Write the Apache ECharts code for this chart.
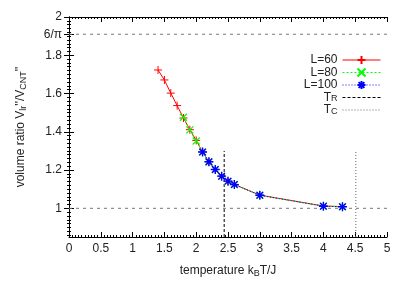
<!DOCTYPE html>
<html><head><meta charset="utf-8">
<script src="https://cdn.jsdelivr.net/npm/echarts@6/dist/echarts.min.js"></script>
<style>html,body{margin:0;padding:0;background:#fff}#c{width:407px;height:291px}</style>
</head><body><div id="c"></div>
<script>
// ---- data ----
var tempsL60  = [1.4, 1.5, 1.6, 1.7, 1.8, 1.9, 2.0, 2.1, 2.2, 2.3, 2.4, 2.5, 2.6, 3.0, 4.0, 4.3];
var valuesL60 = [1.723, 1.671, 1.602, 1.537, 1.472, 1.411, 1.355, 1.295, 1.243, 1.203, 1.168, 1.142, 1.125, 1.069, 1.012, 1.009];
var tempsL80  = [1.8, 1.9, 2.0, 2.1, 2.2, 2.3, 2.4, 2.5, 2.6, 3.0, 4.0, 4.3];
var valuesL80 = [1.476, 1.410, 1.352, 1.294, 1.242, 1.202, 1.167, 1.141, 1.124, 1.068, 1.011, 1.008];
var tempsL100  = [2.1, 2.2, 2.3, 2.4, 2.5, 2.6, 3.0, 4.0, 4.3];
var valuesL100 = [1.294, 1.243, 1.203, 1.168, 1.142, 1.124, 1.068, 1.011, 1.008];
var T_R = 2.44, T_C = 4.51, vLineTop = 1.3;
var refLevels = [1, 6 / Math.PI];
var xTicks = [0, 0.5, 1, 1.5, 2, 2.5, 3, 3.5, 4, 4.5, 5];
var yTickLabels = [1, 1.2, 1.4, 1.6, 1.8, 6 / Math.PI, 2];
var legendNames = ['L=60', 'L=80', 'L=100', 'T_R', 'T_C'];

function zip(a, b) { return a.map(function (v, i) { return [v, b[i]]; }); }
var yMin = 0.85, yMax = 2, xMin = 0, xMax = 5;
var yMinor = []; for (var k = 0; k <= 57; k++) { yMinor.push(+(0.86 + k * 0.02).toFixed(3)); }
var xMinor = []; for (var j = 0; j <= 100; j++) { xMinor.push(+(j * 0.05).toFixed(3)); }

var font = 'Liberation Sans';
var txt = '#222';
var G = {left: 69, right: 20, top: 17, bottom: 54};
function xAx(grid, pos, show, minor) {
  return {
    type: 'value', gridIndex: grid, position: pos, min: xMin, max: xMax,
    axisLine: {show: !minor, lineStyle: {color: '#000', width: 1}},
    axisTick: {show: true, inside: true, length: minor ? 2 : 5, lineStyle: {color: '#000', width: 1},
               customValues: minor ? xMinor : xTicks},
    axisLabel: {show: show, customValues: xTicks, margin: 6, fontFamily: font, fontSize: 12, color: txt},
    splitLine: {show: false}
  };
}
function yAx(grid, pos, show, minor) {
  return {
    type: 'value', gridIndex: grid, position: pos, min: yMin, max: yMax,
    axisLine: {show: !minor, lineStyle: {color: '#000', width: 1}},
    axisTick: {show: true, inside: true, length: minor ? 2 : 5, lineStyle: {color: '#000', width: 1},
               customValues: minor ? yMinor : yTickLabels},
    axisLabel: {show: show, customValues: yTickLabels, margin: 7, fontFamily: font, fontSize: 12, color: txt,
                formatter: function (v) { return Math.abs(v - 6 / Math.PI) < 1e-6 ? '6/π' : String(+v.toFixed(2)); }},
    splitLine: {show: false}
  };
}
var subStyle = {fontFamily: font, fontSize: 9, color: txt, verticalAlign: 'bottom', padding: [6, 0, 0, 0]};
var xa0 = xAx(0, 'bottom', true, false);
xa0.name = 'temperature k{s|B}T/J';
xa0.nameLocation = 'middle'; xa0.nameGap = 26;
xa0.nameTextStyle = {fontFamily: font, fontSize: 12, color: txt, rich: {s: subStyle}};
var ya0 = yAx(0, 'left', true, false);
ya0.name = "volume ratio V{s|lr}''/V{s|CNT}''";
ya0.nameLocation = 'middle'; ya0.nameGap = 41;
ya0.nameTextStyle = {fontFamily: font, fontSize: 12, color: txt, rich: {s: subStyle}};

function sym(path) { return 'path://' + path; }
var plusSym = sym('M0,-1L0,1M-1,0L1,0');
var xSym = sym('M-1,-1L1,1M-1,1L1,-1');
var starSym = sym('M0,-1L0,1M-1,0L1,0M-0.72,-0.72L0.72,0.72M-0.72,0.72L0.72,-0.72');

var series = [];
refLevels.forEach(function (lv) {
  series.push({type: 'line', xAxisIndex: 0, yAxisIndex: 0, data: [[xMin, lv], [xMax, lv]], symbol: 'none', silent: true,
    lineStyle: {color: '#777', width: 1, type: [3, 4]}, z: 1});
});
series.push({name: 'T_R', type: 'line', xAxisIndex: 0, yAxisIndex: 0, data: [[T_R, yMin], [T_R, vLineTop]], symbol: 'none',
  itemStyle: {color: '#000'}, lineStyle: {color: '#000', width: 1, type: [3, 2]}, z: 1});
series.push({name: 'T_C', type: 'line', xAxisIndex: 0, yAxisIndex: 0, data: [[T_C, yMin], [T_C, vLineTop]], symbol: 'none',
  itemStyle: {color: '#666'}, lineStyle: {color: '#666', width: 1, type: [1, 2]}, z: 1});
series.push({name: 'L=60', type: 'line', xAxisIndex: 0, yAxisIndex: 0, data: zip(tempsL60, valuesL60),
  symbol: plusSym, symbolSize: 8, showAllSymbol: true,
  itemStyle: {color: '#ff0000', borderColor: '#ff0000', borderWidth: 1},
  lineStyle: {color: '#ff0000', width: 1}, z: 3});
series.push({name: 'L=80', type: 'line', xAxisIndex: 0, yAxisIndex: 0, data: zip(tempsL80, valuesL80),
  symbol: xSym, symbolSize: 7, showAllSymbol: true,
  itemStyle: {color: '#00ff00', borderColor: '#00ff00', borderWidth: 1.2},
  lineStyle: {color: '#00ff00', width: 1, type: [2, 2]}, z: 4});
series.push({name: 'L=100', type: 'line', xAxisIndex: 0, yAxisIndex: 0, data: zip(tempsL100, valuesL100),
  symbol: starSym, symbolSize: 9, showAllSymbol: true,
  itemStyle: {color: '#0000ff', borderColor: '#0000ff', borderWidth: 1.4},
  lineStyle: {color: '#0000ff', width: 1, type: [1, 2]}, z: 5});

var legendData = legendNames.map(function (n) {
  return (n === 'T_R' || n === 'T_C') ? {name: n, itemStyle: {opacity: 0}} : {name: n};
});

var chart = echarts.init(document.getElementById('c'), null, {renderer: 'canvas'});
chart.setOption({
  animation: false,
  backgroundColor: '#fff',
  grid: [G, Object.assign({}, G)],
  xAxis: [xa0, xAx(0, 'top', false, false), xAx(1, 'bottom', false, true), xAx(1, 'top', false, true)],
  yAxis: [ya0, yAx(0, 'right', false, false), yAx(1, 'left', false, true), yAx(1, 'right', false, true)],
  legend: {
    data: legendData, orient: 'vertical', right: 26, top: 54, align: 'right', padding: 0,
    itemWidth: 38, itemHeight: 10, itemGap: 0.5, selectedMode: false,
    lineStyle: {width: 1},
    textStyle: {fontFamily: font, fontSize: 12, color: txt, lineHeight: 12,
      rich: {n: {fontFamily: font, fontSize: 12, color: txt, lineHeight: 12}, s: {fontFamily: font, fontSize: 9, color: txt, verticalAlign: 'bottom', lineHeight: 9, padding: [3, 0, 0, 0]}}},
    formatter: function (n) {
      if (n === 'T_R') return '{n|T}{s|R}';
      if (n === 'T_C') return '{n|T}{s|C}';
      return n;
    }
  },
  series: series
});
</script></body></html>
